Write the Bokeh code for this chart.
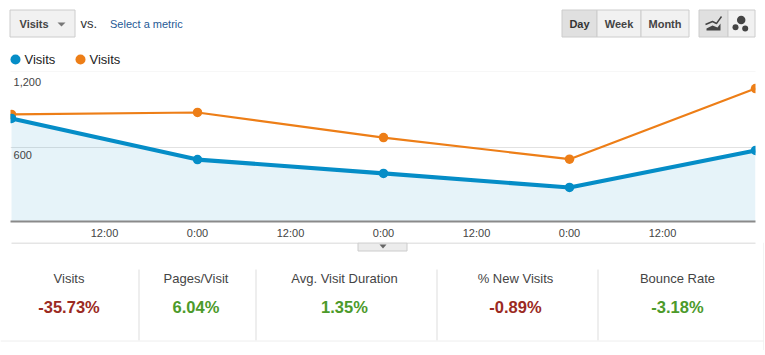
from bokeh.plotting import figure
from bokeh.layouts import column
from bokeh.models import FixedTicker, Range1d
from bokeh.core.properties import value
from bokeh.embed import file_html
from bokeh.resources import INLINE

# --- data ---
hours = [0, 24, 48, 72, 96]
visits_a = [830, 499, 387, 274, 572]
visits_b = [862, 878, 676, 502, 1071]
series_names = ["Visits", "Visits"]
x_ticks = [12, 24, 36, 48, 60, 72, 84]
x_tick_labels = ["12:00", "0:00", "12:00", "0:00", "12:00", "0:00", "12:00"]
y_ticks = [600, 1200]
y_tick_labels = ["600", "1,200"]
kpi_names = ["Visits", "Pages/Visit", "Avg. Visit Duration", "% New Visits", "Bounce Rate"]
kpi_values = ["-35.73%", "6.04%", "1.35%", "-0.89%", "-3.18%"]
kpi_good = [False, True, True, False, True]

BLUE = "#058dc7"
ORANGE = "#ed7e17"
FONT = "Liberation Sans"
W = 764


def chrome(y0, y1):
    """A figure whose data units are page pixels."""
    p = figure(width=W, height=y1 - y0, output_backend="svg", toolbar_location=None,
               x_range=Range1d(0, W), y_range=Range1d(y1, y0),
               min_border=0, min_border_left=0, min_border_right=0,
               min_border_top=0, min_border_bottom=0, frame_align=False)
    p.axis.visible = False
    p.grid.visible = False
    p.outline_line_color = None
    return p


def txt(p, x, y, s, size, color="#333333", style="normal", align="left"):
    p.text([x], [y], text=[s], text_font=value(FONT), text_font_size=f"{size}px",
           text_color=color, text_font_style=style, text_align=align, text_baseline="middle")


def box(p, x0, x1, y0, y1, fill="#f1f1f1", line="#cccccc"):
    p.quad(left=[x0], right=[x1], top=[y0], bottom=[y1], fill_color=fill, line_color=line, line_width=1)


# --- header ---
h = chrome(0, 72)
box(h, 9.5, 74.5, 9.5, 36.5)
txt(h, 19, 23, "Visits", 11, "#444444", "bold")
h.patch([57, 65, 61], [22, 22, 26], fill_color="#777777", line_color=None)
txt(h, 80, 23, "vs.", 13, "#333333")
txt(h, 109.5, 23, "Select a metric", 11, "#1f5a96")

box(h, 561.5, 596.5, 9.5, 36.5, fill="#e0e0e0")
box(h, 596.5, 640.5, 9.5, 36.5)
box(h, 640.5, 688.5, 9.5, 36.5)
txt(h, 579, 23, "Day", 11, "#333333", "bold", "center")
txt(h, 618.5, 23, "Week", 11, "#444444", "bold", "center")
txt(h, 664.5, 23, "Month", 11, "#444444", "bold", "center")

box(h, 698.5, 727.5, 9.5, 36.5, fill="#e0e0e0")
box(h, 727.5, 754.5, 9.5, 36.5)
h.patch([706, 712, 717, 720, 720, 706], [28, 25, 27, 23, 30, 30], fill_color="#444444", line_color=None)
h.line([705, 712, 716, 721], [24, 21, 23, 16], line_color="#444444", line_width=1.4)
h.scatter([740.7, 735, 744.7], [19.5, 26.7, 28], size=[8.5, 6, 6], fill_color="#444444", line_color=None)

h.scatter([15, 80], [59, 59], size=10, fill_color=[BLUE, ORANGE], line_color=None)
txt(h, 24, 59, series_names[0], 13, "#222222")
txt(h, 89, 59, series_names[1], 13, "#222222")
h.line([10, 755], [71.5, 71.5], line_color="#eeeeee", line_width=1)

# --- chart ---
p = figure(width=W, height=170, output_backend="svg", toolbar_location=None,
           x_range=Range1d(-0.13, 96.0), y_range=Range1d(0, 1200), frame_align=False,
           min_border_left=10, min_border_right=9, min_border_top=0, min_border_bottom=21)
p.outline_line_color = None
p.yaxis.visible = False
p.xgrid.visible = False
p.ygrid.ticker = FixedTicker(ticks=y_ticks)
p.ygrid.grid_line_color = "#e2e2e2"

p.xaxis.ticker = FixedTicker(ticks=x_ticks)
p.xaxis.major_label_overrides = dict(zip(x_ticks, x_tick_labels))
p.xaxis.major_tick_line_color = None
p.xaxis.minor_tick_line_color = None
p.xaxis.axis_line_color = "#8a8a8a"
p.xaxis.axis_line_width = 2
p.xaxis.major_label_text_font = FONT
p.xaxis.major_label_text_font_size = "11px"
p.xaxis.major_label_text_color = "#444444"
p.xaxis.major_label_standoff = -1

p.varea(hours, [0] * len(hours), visits_a, fill_color=BLUE, fill_alpha=0.1)
p.line(hours, visits_b, line_color=ORANGE, line_width=2.2)
p.scatter(hours, visits_b, size=9.5, fill_color=ORANGE, line_color=None)
p.line(hours, visits_a, line_color=BLUE, line_width=4.2)
p.scatter(hours, visits_a, size=9.5, fill_color=BLUE, line_color=None)
p.text([hours[0]] * 2, y_ticks, text=y_tick_labels, x_offset=2, y_offset=[8, 9],
       text_font=value(FONT), text_font_size="11px", text_color="#444444",
       text_baseline="middle", text_align="left")

# --- KPI strip ---
b = chrome(242, 350)
b.line([11, 755], [242.5, 242.5], line_color="#cccccc", line_width=1)
box(b, 357.5, 406.5, 242.5, 250.5, fill="#ececec")
b.patch([379, 386, 382.5], [244, 244, 248], fill_color="#666666", line_color=None)

kpi_x = [68.5, 195.5, 344, 515, 677]
for x in [138.5, 255.5, 436.5, 597.5]:
    b.line([x, x], [269, 340], line_color="#dddddd", line_width=1)
b.line([0, 763], [340.5, 340.5], line_color="#eeeeee", line_width=1)
b.line([763.5, 763.5], [242, 350], line_color="#e6e6e6", line_width=1)
for x, n, v, g in zip(kpi_x, kpi_names, kpi_values, kpi_good):
    txt(b, x, 277.5, n, 13, "#444444", "normal", "center")
    txt(b, x, 306.5, v, 16.5, "#4c9a2a" if g else "#9b2a22", "bold", "center")

open("out.html", "w").write(file_html(column(h, p, b, spacing=0), INLINE))
